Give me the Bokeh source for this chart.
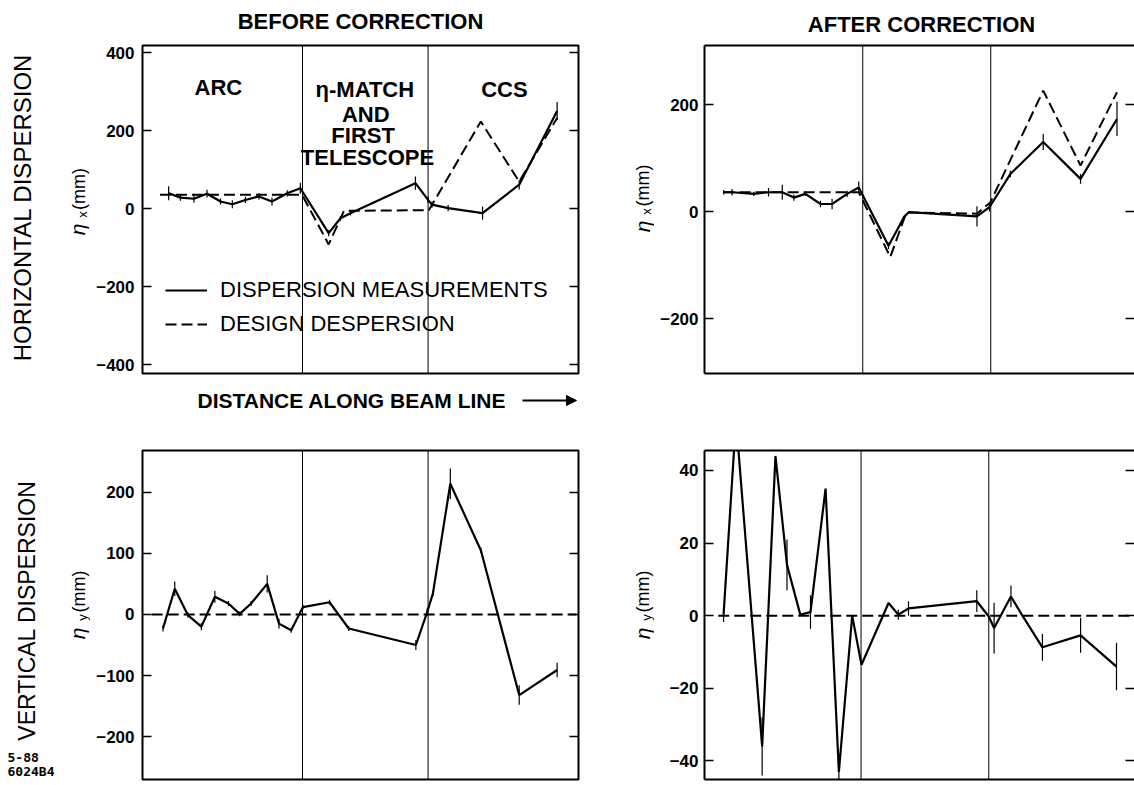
import numpy as np
from bokeh.plotting import figure
from bokeh.layouts import column, row
from bokeh.models import (Range1d, FixedTicker, LinearAxis, Span, Legend, LegendItem,
                          Arrow, NormalHead, CustomJSTickFormatter)
from bokeh.core.properties import value
from bokeh.embed import file_html
from bokeh.resources import INLINE

FONT = "Liberation Sans"

# ---------------- data ----------------
section_bounds = [36.7, 65.5]          # ARC | eta-match & first telescope | CCS

# horizontal dispersion, before correction
tl_x = [6.0, 8.7, 11.8, 14.8, 17.9, 20.6, 23.6, 26.7, 29.7, 33.2, 36.2, 42.7, 45.4, 47.7,
        62.6, 65.5, 66.4, 70.1, 78.0, 86.4, 95.1]
tl_y = [39, 28, 25, 38, 18, 11, 22, 31, 18, 39, 52, -63, -25, -12,
        65, 22, 10, 1, -12, 61, 250]
tl_err = [18, 8, 10, 10, 8, 10, 8, 8, 10, 8, 14, 8, 6, 6, 17, 8, 8, 8, 17, 12, 23]
tl_design_x = [4.0, 36.6, 42.7, 46.2, 65.7, 77.6, 86.4, 95.1]
tl_design_y = [35, 35, -92, -6, -4, 223, 69, 232]

# horizontal dispersion, after correction
tr_x = [5.4, 7.3, 12.2, 15.5, 18.6, 21.2, 23.8, 27.2, 29.8, 33.2, 35.8, 42.5, 44.8, 46.0,
        47.1, 62.4, 65.2, 69.9, 77.3, 85.7, 93.9]
tr_y = [36, 36, 33, 36, 36, 26, 33, 14, 14, 33, 45, -64, -29, -10,
        -1, -9, 8, 70, 130, 61, 173]
tr_err = [4, 6, 4, 8, 14, 6, 4, 6, 10, 6, 11, 6, 0, 0, 0, 19, 8, 6, 15, 9, 32]
tr_design_x = [5.4, 35.8, 42.9, 46.5, 62.4, 65.4, 77.3, 85.7, 93.9]
tr_design_y = [36, 36, -85, -2, -4, 17, 226, 86, 223]

# vertical dispersion, before correction
bl_x = [4.7, 7.4, 10.4, 13.5, 16.6, 19.7, 22.3, 24.9, 28.6, 31.3, 34.1, 36.8, 42.9, 47.3,
        62.7, 65.3, 66.6, 70.6, 77.6, 86.4, 95.1]
bl_y = [-23, 42, -1, -20, 29, 18, 1, 18, 50, -15, -26, 12, 20, -23,
        -50, 4, 34, 214, 105, -132, -91]
bl_err = [5, 12, 4, 6, 10, 4, 4, 4, 14, 8, 4, 4, 4, 4, 8, 6, 4, 25, 4, 16, 12]
bl_design_x = [2.1, 99.5]
bl_design_y = [0, 0]

# vertical dispersion, after correction
br_x = [5.7, 8.5, 14.4, 17.4, 20.0, 23.0, 25.3, 28.7, 31.7, 34.7, 36.8, 42.9, 45.1, 47.4,
        62.8, 65.5, 66.7, 70.5, 73.2, 77.6, 86.2, 94.3]
br_y = [0.3, 54, -36, 44, 14, 0.3, 1, 35, -43, 0, -13.5, 3.5, 0.3, 2,
        4, -0.2, -3.4, 5.3, -0.2, -8.7, -5.4, -14]
br_err = [2, 0, 8, 0, 7, 0, 4.6, 0, 5, 0, 0, 0, 1.4, 2, 3, 0, 7, 3, 0, 3.7, 4.8, 6.5]
br_design_x = [4.5, 100]
br_design_y = [0, 0]

tl_ticks = [-400, -200, 0, 200, 400]
tr_ticks = [-200, 0, 200]
bl_ticks = [-200, -100, 0, 100, 200]
br_ticks = [-40, -20, 0, 20, 40]

DASH = "11 5"
ROT = np.pi / 2

# shared vertical borders per row (frames in one row are aligned by the layout)
TOP_B, BOT_B, H_B = 10, 12, 350
TOP_D, BOT_D, H_D = 13, 6, 348


def textfig(w, h, top=0, bottom=0):
    # data units == canvas pixels of this figure (y downwards)
    p = figure(width=w, height=h, x_range=Range1d(0, w), y_range=Range1d(h - bottom, top),
               output_backend="svg", toolbar_location=None, title=None,
               x_axis_location=None, y_axis_location=None,
               min_border_left=0, min_border_right=0,
               min_border_top=top, min_border_bottom=bottom,
               outline_line_color=None)
    p.xgrid.visible = False
    p.ygrid.visible = False
    return p


def put(p, x, y, txt, size, style="normal", angle=0.0, align="center", font=FONT):
    p.text(x=[x], y=[y], text=[txt], text_font=value(font), text_font_size=size,
           text_font_style=style, angle=angle, text_align=align,
           text_baseline="middle", text_color="black")


def eta_label(p, xc, y_mm, y_eta, y_sub, sub):
    put(p, xc + 1, y_mm, "(mm)", "18px", angle=ROT)
    put(p, xc, y_eta, "η", "21px", "italic", angle=ROT)
    put(p, xc + 4.5, y_sub, sub, "13px", angle=ROT)


def panel(w, h, xr, yr, ticks, mb, standoff, outline=True):
    l, r, t, b = mb
    p = figure(width=w, height=h, x_range=Range1d(*xr), y_range=Range1d(*yr),
               output_backend="svg", toolbar_location=None, title=None,
               x_axis_location=None, y_axis_location="left",
               min_border_left=l, min_border_right=r, min_border_top=t, min_border_bottom=b)
    p.xgrid.visible = False
    p.ygrid.visible = False
    ax = p.yaxis[0]
    ax.ticker = FixedTicker(ticks=ticks)
    ax.major_tick_in = 9
    ax.major_tick_out = 0
    ax.major_tick_line_width = 1.5
    ax.minor_tick_line_color = None
    ax.major_label_standoff = standoff
    ax.major_label_text_font = FONT
    ax.major_label_text_font_size = "17px"
    ax.major_label_text_font_style = "bold"
    ax.major_label_text_color = "black"
    ra = LinearAxis(ticker=FixedTicker(ticks=ticks), major_tick_in=9, major_tick_out=0,
                    major_tick_line_width=1.5, minor_tick_line_color=None,
                    axis_line_color=None, major_label_standoff=0,
                    formatter=CustomJSTickFormatter(code="return '';"))
    p.add_layout(ra, "right")
    if outline:
        p.outline_line_color = "black"
        p.outline_line_width = 2
        p.outline_line_alpha = 1
        ax.axis_line_color = None
    else:
        p.outline_line_color = None
        ax.axis_line_width = 2
        for loc in ("above", "below"):
            a = LinearAxis(ticker=FixedTicker(ticks=[]), major_tick_in=0, major_tick_out=0,
                           minor_tick_line_color=None, axis_line_width=2,
                           major_label_standoff=0,
                           formatter=CustomJSTickFormatter(code="return '';"))
            p.add_layout(a, loc)
    for v in section_bounds:
        p.add_layout(Span(location=v, dimension="height", line_color="black", line_width=1))
    return p


def draw(p, x, y, err, dx, dy):
    x = np.array(x, float)
    y = np.array(y, float)
    e = np.array(err, float)
    m = e > 0
    p.segment(x0=x[m], y0=y[m] - e[m], x1=x[m], y1=y[m] + e[m], line_color="black",
              line_width=1.2)
    r_des = p.line(dx, dy, line_color="black", line_width=2, line_dash=DASH)
    r_meas = p.line(x, y, line_color="black", line_width=2.2)
    return r_meas, r_des


# ---------------- panels ----------------
TL = panel(510, H_B, (0, 100), (-423, 418), tl_ticks, (52, 22, TOP_B, BOT_B), 8, True)
TR = panel(480, H_B, (1.1, 97.84), (-302.8, 310.3), tr_ticks, (50, 0, TOP_B, BOT_B), 6, False)
BL = panel(510, H_D, (0, 100), (-270.2, 268.4), bl_ticks, (52, 22, TOP_D, BOT_D), 8, True)
BR = panel(480, H_D, (1.4, 98.36), (-45.1, 45.5), br_ticks, (50, 0, TOP_D, BOT_D), 6, False)

m_tl, d_tl = draw(TL, tl_x, tl_y, tl_err, tl_design_x, tl_design_y)
draw(TR, tr_x, tr_y, tr_err, tr_design_x, tr_design_y)
draw(BL, bl_x, bl_y, bl_err, bl_design_x, bl_design_y)
draw(BR, br_x, br_y, br_err, br_design_x, br_design_y)

# section labels
for txt, xx, yy in [("ARC", 17.4, 310), ("η-MATCH", 51.0, 306), ("AND", 51.2, 242),
                    ("FIRST", 50.6, 187), ("TELESCOPE", 51.6, 131), ("CCS", 83.0, 306)]:
    put(TL, xx, yy, txt, "22px", "bold")

legend = Legend(items=[LegendItem(label="DISPERSION MEASUREMENTS", renderers=[m_tl]),
                       LegendItem(label="DESIGN DESPERSION", renderers=[d_tl])],
                location=(23, 36), orientation="vertical",
                border_line_color=None, background_fill_alpha=0,
                padding=0, margin=0, spacing=8, glyph_height=24, glyph_width=42,
                label_height=24, label_standoff=13,
                label_text_font=FONT, label_text_font_size="22px",
                label_text_color="black")
TL.add_layout(legend)

# ---------------- text areas ----------------
titles = textfig(1134, 35)
put(titles, 360, 21, "BEFORE CORRECTION", "22px", "bold")
put(titles, 921, 23.5, "AFTER CORRECTION", "22px", "bold")

L1 = textfig(90, H_B, TOP_B, BOT_B)
put(L1, 22, 172, "HORIZONTAL DISPERSION", "24px", angle=ROT)
eta_label(L1, 77, 153.5, 194, 179, "x")

M1 = textfig(54, H_B, TOP_B, BOT_B)
eta_label(M1, 41.5, 150, 191, 176, "x")

mid = textfig(1134, 52)
put(mid, 197, 15, "DISTANCE ALONG BEAM LINE", "21px", "bold", align="left")
mid.add_layout(Arrow(x_start=522, y_start=15, x_end=576, y_end=15, line_color="black",
                     line_width=2,
                     end=NormalHead(size=10, fill_color="black", line_color="black")))

L2 = textfig(90, H_D, TOP_D, BOT_D)
put(L2, 26, 173, "VERTICAL DISPERSION", "23px", angle=ROT)
eta_label(L2, 77, 154, 196, 180, "y")
put(L2, 7, 320, "5-88", "13px", "bold", align="left", font="DejaVu Sans Mono")
put(L2, 7, 334, "6024B4", "13px", "bold", align="left", font="DejaVu Sans Mono")

M2 = textfig(54, H_D, TOP_D, BOT_D)
eta_label(M2, 41.5, 154, 196, 180, "y")

layout = column(titles,
                row(L1, TL, M1, TR),
                mid,
                row(L2, BL, M2, BR))

open("out.html", "w").write(file_html(layout, INLINE, "Dispersion correction"))
